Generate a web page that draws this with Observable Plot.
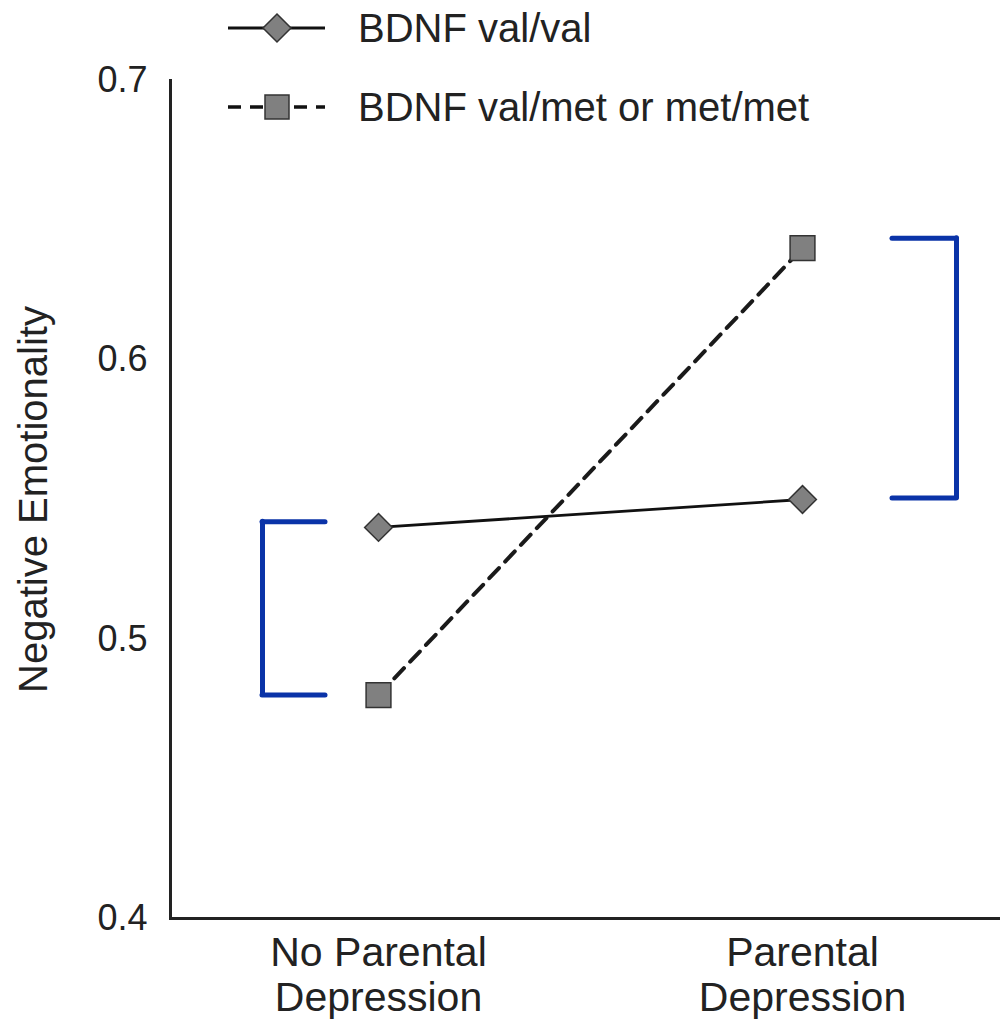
<!DOCTYPE html>
<html><head><meta charset="utf-8">
<script src="https://cdn.jsdelivr.net/npm/d3@7"></script>
<script src="https://cdn.jsdelivr.net/npm/@observablehq/plot@0.6"></script>
<style>
body{margin:0;background:#fff;}
#wrap{position:relative;width:1000px;height:1021px;font-family:"Liberation Sans",Arial,sans-serif;overflow:hidden;}
#legend{position:absolute;left:0;top:0;}
</style></head><body>
<div id="wrap"><div id="chart"></div><div id="legend"></div></div>
<script>
const categories = ["No Parental\nDepression", "Parental\nDepression"];
const seriesNames = ["BDNF val/val", "BDNF val/met or met/met"];
const valVal = [0.54, 0.55];
const valMet = [0.48, 0.64];
const yTicks = [0.4, 0.5, 0.6, 0.7];
const yLabel = "Negative Emotionality";
const bracketNoDep = [0.48, 0.542];
const bracketDep = [0.5505, 0.6435];

const rowsA = categories.map((c, i) => ({cat: c, series: seriesNames[0], value: valVal[i]}));
const rowsB = categories.map((c, i) => ({cat: c, series: seriesNames[1], value: valMet[i]}));
const blue = "#0a33a8";

const chart = Plot.plot({
  width: 1000, height: 1021,
  marginLeft: 170, marginTop: 80, marginBottom: 103, marginRight: 0,
  style: {fontFamily: "'Liberation Sans', Arial, sans-serif", color: "#222", background: "#fff"},
  x: {type: "point", domain: categories, range: [378, 802], padding: 0},
  y: {domain: [0.4, 0.7]},
  marks: [
    Plot.axisY(yTicks, {tickSize: 0, tickPadding: 23, fontSize: 36, tickFormat: d3.format(".1f"), label: null}),
    Plot.axisX({tickSize: 0, tickPadding: 15, fontSize: 41, lineHeight: 1.1, label: null}),
    Plot.text([yLabel], {text: d => d, frameAnchor: "left", textAnchor: "middle", rotate: -90, dx: -136, fontSize: 40, fill: "#222"}),
    Plot.frame({anchor: "left", stroke: "#222", strokeWidth: 3}),
    Plot.ruleY([0.4], {stroke: "#222", strokeWidth: 3}),
    // brackets
    Plot.ruleX([bracketNoDep], {x: () => categories[0], y1: d => d[0], y2: d => d[1], dx: -116, stroke: blue, strokeWidth: 5, strokeLinecap: "round"}),
    Plot.ruleY(bracketNoDep, {x1: () => categories[0], x2: () => categories[0], insetLeft: -116, insetRight: 53, stroke: blue, strokeWidth: 5, strokeLinecap: "round"}),
    Plot.ruleX([bracketDep], {x: () => categories[1], y1: d => d[0], y2: d => d[1], dx: 154, stroke: blue, strokeWidth: 5, strokeLinecap: "round"}),
    Plot.ruleY(bracketDep, {x1: () => categories[1], x2: () => categories[1], insetLeft: 90, insetRight: -154, stroke: blue, strokeWidth: 5, strokeLinecap: "round"}),
    // series
    Plot.line(rowsA, {x: "cat", y: "value", stroke: "#111", strokeWidth: 2.8}),
    Plot.line(rowsB, {x: "cat", y: "value", stroke: "#1a1a1a", strokeWidth: 4, strokeDasharray: "14,9"}),
    Plot.dot(rowsA, {x: "cat", y: "value", symbol: "diamond2", r: 12.5, fill: "#808080", stroke: "#333", strokeWidth: 1.5}),
    Plot.dot(rowsB, {x: "cat", y: "value", symbol: "square", r: 14, fill: "#808080", stroke: "#333", strokeWidth: 1.5})
  ]
});
document.getElementById("chart").appendChild(chart);

// legend
const lg = d3.select("#legend").append("svg").attr("width", 1000).attr("height", 140)
  .style("font-family", "'Liberation Sans', Arial, sans-serif");
const rowsY = [28, 107];
seriesNames.forEach((name, i) => {
  const g = lg.append("g").attr("transform", `translate(0,${rowsY[i]})`);
  g.append("line").attr("x1", 228).attr("x2", 325).attr("y1", 0).attr("y2", 0)
    .attr("stroke", "#111").attr("stroke-width", i ? 3.5 : 2.8)
    .attr("stroke-dasharray", i ? "13,9" : null);
  if (i === 0) {
    g.append("path").attr("d", "M277,-14L291,0L277,14L263,0Z").attr("fill", "#808080").attr("stroke", "#333").attr("stroke-width", 1.5);
  } else {
    g.append("rect").attr("x", 265).attr("y", -12).attr("width", 24).attr("height", 24).attr("fill", "#808080").attr("stroke", "#333").attr("stroke-width", 1.5);
  }
  g.append("text").attr("x", 358).attr("y", 0).attr("dy", "0.35em").attr("font-size", 40).attr("fill", "#222").text(name);
});
</script>
</body></html>
